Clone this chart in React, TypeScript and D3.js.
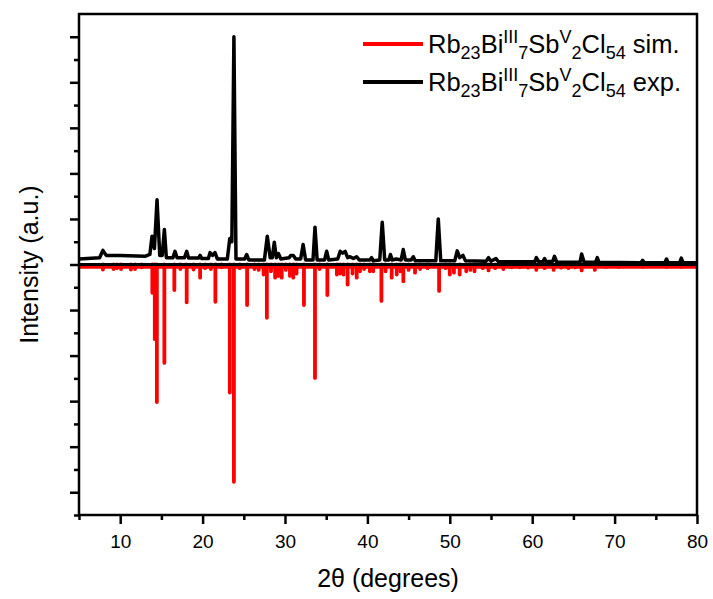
import React, { useEffect, useRef } from 'react';
import * as d3 from 'd3';

// experimental pattern, traced vertices [2theta, intensity]
const expPoints: [number, number][] = [
  [5, 0.12], [7.5, 0.15], [7.9, 0.31], [8.3, 0.2], [10, 0.2], [13, 0.18], [13.6, 0.22],
  [13.86, 0.62], [14.15, 0.35], [14.47, 1.42], [14.8, 0.2], [15.1, 0.2], [15.36, 0.77],
  [15.6, 0.15], [16.4, 0.15], [16.65, 0.29], [16.9, 0.15], [17.8, 0.15], [18.07, 0.29],
  [18.3, 0.14], [19.5, 0.14], [19.7, 0.2], [19.9, 0.13], [20.7, 0.13], [20.9, 0.26],
  [21.2, 0.2], [21.5, 0.26], [21.8, 0.12], [23.0, 0.12], [23.3, 0.57], [23.55, 0.5],
  [23.8, 5.0], [24.05, 0.12], [25.1, 0.12], [25.35, 0.22], [25.6, 0.1], [27.5, 0.1],
  [27.85, 0.62], [28.2, 0.15], [28.45, 0.15], [28.7, 0.49], [28.95, 0.15], [29.2, 0.24],
  [29.5, 0.12], [30.5, 0.15], [30.7, 0.2], [31.0, 0.2], [31.3, 0.12], [31.9, 0.12],
  [32.2, 0.44], [32.5, 0.1], [33.4, 0.1], [33.64, 0.82], [33.9, 0.1], [34.8, 0.1],
  [35.06, 0.29], [35.3, 0.1], [36.4, 0.12], [36.7, 0.29], [37.0, 0.25], [37.3, 0.29],
  [37.6, 0.15], [37.9, 0.17], [38.3, 0.13], [38.7, 0.17], [39.0, 0.1], [40.3, 0.1],
  [40.5, 0.15], [40.7, 0.08], [41.5, 0.1], [41.8, 0.93], [42.1, 0.1], [42.6, 0.1],
  [42.8, 0.22], [43.0, 0.1], [43.5, 0.12], [44.1, 0.1], [44.35, 0.33], [44.6, 0.1],
  [45.3, 0.1], [45.57, 0.17], [45.8, 0.08], [48.3, 0.08], [48.6, 1.0], [48.9, 0.08],
  [50.6, 0.08], [50.9, 0.3], [51.2, 0.15], [51.6, 0.2], [51.9, 0.08], [54.4, 0.07],
  [54.7, 0.15], [55.0, 0.07], [55.6, 0.13], [55.9, 0.06], [60.3, 0.06], [60.5, 0.15],
  [60.8, 0.06], [61.3, 0.06], [61.5, 0.13], [61.7, 0.06], [62.5, 0.07], [62.7, 0.18],
  [63.0, 0.05], [65.8, 0.05], [66.0, 0.23], [66.3, 0.05], [67.7, 0.05], [67.9, 0.15],
  [68.1, 0.05], [73.2, 0.04], [73.4, 0.09], [73.6, 0.04], [76.1, 0.04], [76.3, 0.12],
  [76.5, 0.04], [77.9, 0.04], [78.1, 0.14], [78.3, 0.04], [80, 0.04],
];

// simulated reflections (plotted downward)
const simPos = [
  7.9, 9.2, 9.6, 10.1, 11.3, 11.8, 12.6, 13.9, 14.2, 14.45, 15.36, 16.57, 17.3, 18.07,
  18.9, 19.7, 20.3, 21.0, 21.55, 22.3, 23.3, 23.8, 24.5, 25.4, 26.3, 26.8, 27.4, 27.8,
  28.3, 28.8, 29.2, 29.6, 30.1, 30.6, 31.0, 31.4, 32.3, 33.64, 34.2, 35.14, 36.3, 36.7,
  37.1, 37.6, 38.2, 38.7, 39.1, 39.6, 40.3, 40.7, 41.7, 42.2, 42.95, 43.56, 44.0, 44.36,
  45.0, 45.78, 46.4, 47.3, 48.7, 49.5, 50.0, 50.5, 51.2, 52.0, 52.5, 53.0, 54.0, 54.7,
  55.5, 56.5, 57.5, 58.5, 59.5, 60.5, 61.5, 62.6, 63.5, 64.4, 65.2, 66.0, 67.6, 69.0,
  70.5, 73.4, 76.3, 78.1,
];
const simInt = [
  -0.11, -0.1, -0.08, -0.1, -0.11, -0.1, -0.06, -0.62, -1.64, -3.02, -2.16, -0.56, -0.1, -0.83,
  -0.11, -0.29, -0.08, -0.1, -0.82, -0.06, -2.81, -4.77, -0.08, -0.89, -0.1, -0.12, -0.22, -1.17,
  -0.15, -0.29, -0.25, -0.29, -0.12, -0.25, -0.29, -0.2, -0.89, -2.49, -0.1, -0.67, -0.22, -0.2,
  -0.22, -0.44, -0.2, -0.29, -0.15, -0.1, -0.15, -0.15, -0.8, -0.15, -0.29, -0.22, -0.15, -0.37,
  -0.12, -0.18, -0.1, -0.08, -0.58, -0.08, -0.22, -0.18, -0.22, -0.15, -0.12, -0.15, -0.08, -0.13,
  -0.08, -0.1, -0.06, -0.06, -0.07, -0.12, -0.08, -0.12, -0.07, -0.08, -0.06, -0.13, -0.12, -0.05,
  -0.05, -0.05, -0.05, -0.05,
];
const simBase = [[5, -0.06], [80, -0.06]];
const zeroLine = [[5, 0], [80, 0]];

const xTicks = [10, 20, 30, 40, 50, 60, 70, 80];
const xMinor = [5, 15, 25, 35, 45, 55, 65, 75];
const yTicks = [-5, -4, -3, -2, -1, 0, 1, 2, 3, 4, 5];
const yMinor = [-5.5, -4.5, -3.5, -2.5, -1.5, -0.5, 0.5, 1.5, 2.5, 3.5, 4.5];

const legendItems = [
  { color: '#ff0000', tag: ' sim.' },
  { color: '#000000', tag: ' exp.' },
];
// formula pieces: [text, position]
const formula: [string, string][] = [
  ['Rb', 'n'], ['23', 'sub'], ['Bi', 'n'], ['III', 'sup'], ['7', 'sub'],
  ['Sb', 'n'], ['V', 'sup'], ['2', 'sub'], ['Cl', 'n'], ['54', 'sub'],
];

const W = 713;
const H = 599;
const m = { left: 79, right: 697, top: 14, bottom: 515 };
const font = '"Liberation Sans", Arial, Helvetica, sans-serif';

const App = () => {
  const svgRef = useRef(null);

  useEffect(() => {
    const svg = d3.select(svgRef.current);
    svg.selectAll('*').remove();

    const x = d3.scaleLinear().domain([5, 80]).range([m.left, m.right]);
    const y = d3.scaleLinear().domain([-5.5, 5.5]).range([m.bottom, m.top]);

    const clip = svg.append('clipPath').attr('id', 'plotclip');
    clip.append('rect')
      .attr('x', m.left).attr('y', m.top)
      .attr('width', m.right - m.left).attr('height', m.bottom - m.top);

    const plot = svg.append('g').attr('clip-path', 'url(#plotclip)');

    const line = d3.line<number[]>().x((d) => x(d[0])).y((d) => y(d[1]));

    // simulated: baseline + sticks
    plot.append('path')
      .attr('d', line(simBase as number[][]))
      .attr('fill', 'none').attr('stroke', '#ff0000').attr('stroke-width', 3);
    plot.selectAll('.stick')
      .data(simPos)
      .enter()
      .append('line')
      .attr('x1', (d) => x(d)).attr('x2', (d) => x(d))
      .attr('y1', y(0)).attr('y2', (d, i) => y(simInt[i]))
      .attr('stroke', '#ff0000').attr('stroke-width', 3.8)
      .attr('stroke-linecap', 'round');

    // zero line
    plot.append('path')
      .attr('d', line(zeroLine as number[][]))
      .attr('fill', 'none').attr('stroke', '#000').attr('stroke-width', 3);

    // experimental
    plot.append('path')
      .attr('d', line(expPoints))
      .attr('fill', 'none').attr('stroke', '#000').attr('stroke-width', 3.5)
      .attr('stroke-linejoin', 'round');

    // frame
    svg.append('rect')
      .attr('x', m.left).attr('y', m.top)
      .attr('width', m.right - m.left).attr('height', m.bottom - m.top)
      .attr('fill', 'none').attr('stroke', '#000').attr('stroke-width', 2.5);

    // x axis
    const xAxis = svg.append('g').attr('transform', 'translate(0,' + m.bottom + ')');
    xAxis.call(d3.axisBottom(x).tickValues(xTicks).tickSize(9).tickFormat(d3.format('d')));
    const xMin = svg.append('g').attr('transform', 'translate(0,' + m.bottom + ')');
    xMin.call(d3.axisBottom(x).tickValues(xMinor).tickSize(5).tickFormat(() => ''));

    const yAxis = svg.append('g').attr('transform', 'translate(' + m.left + ',0)');
    yAxis.call(d3.axisLeft(y).tickValues(yTicks).tickSize(9).tickFormat(() => ''));
    const yMin = svg.append('g').attr('transform', 'translate(' + m.left + ',0)');
    yMin.call(d3.axisLeft(y).tickValues(yMinor).tickSize(5).tickFormat(() => ''));

    [xAxis, xMin, yAxis, yMin].forEach((g) => {
      g.select('.domain').remove();
      g.selectAll('.tick line').attr('stroke', '#000').attr('stroke-width', 2.5);
    });
    xAxis.selectAll('.tick text')
      .attr('font-family', font).attr('font-size', 19).attr('fill', '#000')
      .attr('dy', null).attr('y', 33);

    // axis titles
    svg.append('text')
      .attr('x', (m.left + m.right) / 2).attr('y', 587)
      .attr('text-anchor', 'middle')
      .attr('font-family', font).attr('font-size', 25)
      .text('2θ (degrees)');
    svg.append('text')
      .attr('transform', 'translate(38,' + (m.top + m.bottom) / 2 + ') rotate(-90)')
      .attr('text-anchor', 'middle')
      .attr('font-family', font).attr('font-size', 25)
      .text('Intensity (a.u.)');

    // legend
    legendItems.forEach((item, i) => {
      const ly = 44 + i * 38;
      svg.append('line')
        .attr('x1', 363).attr('x2', 423).attr('y1', ly).attr('y2', ly)
        .attr('stroke', item.color).attr('stroke-width', 4);
      const t = svg.append('text')
        .attr('x', 428).attr('y', ly + 9)
        .attr('font-family', font).attr('font-size', 25.5);
      let cur = 0;
      formula.forEach(([s, pos]) => {
        const off = pos === 'sub' ? 6 : pos === 'sup' ? -10 : 0;
        t.append('tspan')
          .attr('dy', off - cur)
          .attr('font-size', pos === 'n' ? 25.5 : 18)
          .text(s);
        cur = off;
      });
      t.append('tspan').attr('dy', -cur).text(item.tag);
    });
  }, []);

  return (
    <div>
      <svg ref={svgRef} width={W} height={H}
        style={{ position: 'absolute', left: 0, top: 0, background: '#fff' }}></svg>
    </div>
  );
};

export default App;
